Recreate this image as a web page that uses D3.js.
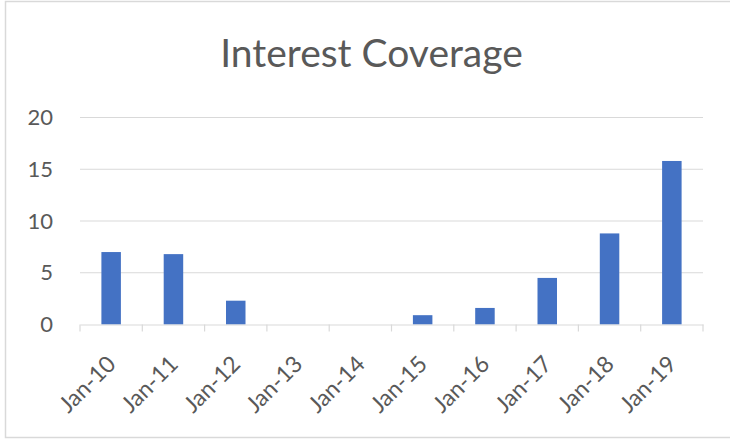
<!DOCTYPE html>
<html>
<head>
<meta charset="utf-8">
<script src="https://cdn.jsdelivr.net/npm/d3@7"></script>
<style>
  html, body { margin: 0; padding: 0; background: #ffffff; }
  svg { display: block; }
</style>
</head>
<body>
<svg id="chart" width="730" height="440"></svg>
<script>
const categories = ["Jan-10","Jan-11","Jan-12","Jan-13","Jan-14","Jan-15","Jan-16","Jan-17","Jan-18","Jan-19"];
const values = [7.0, 6.8, 2.3, 0, 0, 0.9, 1.6, 4.5, 8.8, 15.8];
const yTicks = [0, 5, 10, 15, 20];
const title = "Interest Coverage";

const svg = d3.select("#chart");
const W = 730, H = 440;
const m = { left: 80, right: 27, top: 117.5, bottom: 115.5 };
const FONT = "Lato, 'Open Sans', sans-serif";

// chart border
svg.append("rect")
  .attr("x", 5.5).attr("y", 1.5)
  .attr("width", 740).attr("height", 436)
  .attr("fill", "#ffffff")
  .attr("stroke", "#d9d9d9").attr("stroke-width", 1.5);

const x = d3.scaleBand().domain(categories)
  .range([m.left, W - m.right]).paddingInner(0.687).paddingOuter(0.3435);
const y = d3.scaleLinear().domain([0, 20]).range([H - m.bottom, m.top]);

// gridlines
svg.append("g").selectAll("line").data(yTicks.filter(d => d > 0)).join("line")
  .attr("x1", m.left).attr("x2", W - m.right)
  .attr("y1", d => y(d)).attr("y2", d => y(d))
  .attr("stroke", "#d9d9d9").attr("stroke-width", 1.2);

// y axis labels
const yAxis = svg.append("g").attr("transform", `translate(${m.left},0)`)
  .call(d3.axisLeft(y).tickValues(yTicks).tickSize(0).tickPadding(27));
yAxis.select(".domain").remove();
yAxis.selectAll("text").attr("font-family", FONT).attr("font-size", 22).attr("fill", "#595959");

// bars
svg.append("g").selectAll("rect").data(values).join("rect")
  .attr("x", (d, i) => x(categories[i]))
  .attr("width", x.bandwidth())
  .attr("y", d => y(d))
  .attr("height", d => y(0) - y(d))
  .attr("fill", "#4472c4");

// x axis
const step = x.step();
const xAxis = svg.append("g").attr("transform", `translate(0,${y(0)})`)
  .call(d3.axisBottom(x).tickSize(0).tickPadding(0));
xAxis.select(".domain").attr("stroke", "#d9d9d9").attr("stroke-width", 1.2);
// category boundary ticks
svg.append("g").selectAll("line").data(d3.range(categories.length + 1)).join("line")
  .attr("x1", i => m.left + i * step).attr("x2", i => m.left + i * step)
  .attr("y1", y(0)).attr("y2", y(0) + 7)
  .attr("stroke", "#d9d9d9").attr("stroke-width", 1.2);
xAxis.selectAll(".tick text")
  .attr("font-family", FONT).attr("font-size", 23).attr("fill", "#595959")
  .attr("text-anchor", "end")
  .attr("dy", 0).attr("y", 0)
  .attr("transform", "translate(6,41) rotate(-45)");

// title
svg.append("text")
  .attr("x", 371.5).attr("y", 67)
  .attr("text-anchor", "middle")
  .attr("font-family", FONT).attr("font-size", 39)
  .attr("fill", "#595959")
  .text(title);
</script>
</body>
</html>
